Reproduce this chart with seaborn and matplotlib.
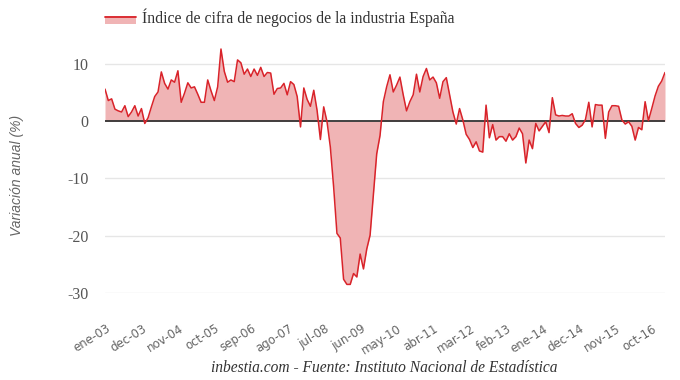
import matplotlib
matplotlib.use("Agg")
import matplotlib.pyplot as plt
from matplotlib.patches import Rectangle
from matplotlib.lines import Line2D
from matplotlib.transforms import ScaledTranslation
import seaborn as sns
import pandas as pd

# Monthly year-on-year change (%), ene-03 .. feb-17
variacion = [
    5.6, 3.6, 3.9, 2.1, 1.8, 1.6, 2.7, 0.8, 1.6, 2.7, 0.9, 2.2,          # 2003
    -0.4, 0.6, 2.5, 4.3, 5.1, 8.6, 6.6, 5.6, 7.2, 6.8, 8.8, 3.3,         # 2004
    4.9, 6.7, 5.8, 6.0, 4.7, 3.3, 3.3, 7.2, 5.3, 3.6, 6.0, 12.6,         # 2005
    8.7, 6.8, 7.2, 6.9, 10.7, 10.2, 8.2, 9.1, 7.8, 9.1, 8.0, 9.4,        # 2006
    7.8, 8.5, 8.4, 4.7, 5.7, 5.8, 6.6, 4.6, 6.9, 6.4, 4.3, -1.0,         # 2007
    5.8, 3.8, 2.6, 5.4, 1.9, -3.2, 2.5, -0.1, -4.5, -11.5, -19.6, -20.4, # 2008
    -27.6, -28.5, -28.5, -26.6, -27.2, -23.2, -25.8, -22.3, -19.9, -12.7, -5.7, -2.5,  # 2009
    3.4, 6.0, 8.1, 5.1, 6.3, 7.7, 4.6, 1.8, 3.4, 4.6, 8.2, 5.1,          # 2010
    7.8, 9.2, 7.2, 7.7, 6.7, 4.0, 6.9, 7.6, 4.6, 1.6, -0.5, 2.2,         # 2011
    0.2, -2.3, -3.2, -4.6, -3.6, -5.2, -5.4, 2.8, -2.9, -0.6, -3.3, -2.7,  # 2012
    -2.7, -3.5, -2.2, -3.3, -2.7, -1.2, -2.2, -7.3, -3.3, -4.8, -0.4, -1.7,  # 2013
    -0.9, -0.1, -2.0, 4.1, 1.1, 0.9, 1.0, 0.9, 0.9, 1.3, -0.4, -1.1,     # 2014
    -0.7, 0.3, 3.3, -1.0, 2.9, 2.8, 2.8, -3.0, 1.6, 2.7, 2.7, 2.6,       # 2015
    0.2, -0.5, -0.1, -0.9, -3.3, -1.1, -1.5, 3.4, 0.1, 2.2, 4.4, 6.1,    # 2016
    7.0, 8.5,                                                           # 2017
]

tick_labels = ["ene-03", "dec-03", "nov-04", "oct-05", "sep-06", "ago-07",
               "jul-08", "jun-09", "may-10", "abr-11", "mar-12", "feb-13",
               "ene-14", "dec-14", "nov-15", "oct-16"]
tick_step = 11
y_ticks = [10, 0, -10, -20, -30]

series_name = "Índice de cifra de negocios de la industria España"
y_title = "Variación anual (%)"
credit = "inbestia.com - Fuente: Instituto Nacional de Estadística"

line_color = "#d9232a"
fill_color = "#f0b4b5"

sns.set_theme(style="white")
plt.rcParams["font.family"] = ["DejaVu Sans"]

df = pd.DataFrame({"mes": range(len(variacion)), "valor": variacion})

W, H = 680, 380
fig = plt.figure(figsize=(W / 100, H / 100), dpi=100)
left, right, top, bottom = 105, 665, 45, 293
ax = fig.add_axes([left / W, 1 - bottom / H, (right - left) / W, (bottom - top) / H])

ax.fill_between(df["mes"], df["valor"], 0, color=fill_color, linewidth=0, zorder=1)
sns.lineplot(data=df, x="mes", y="valor", ax=ax, color=line_color, linewidth=1.1, zorder=3)
ax.axhline(0, color="#333333", linewidth=1.3, zorder=2)

ax.set_xlim(0, len(variacion) - 1)
ax.set_ylim(-30, 13.3)

for v in y_ticks:
    if v != 0:
        ax.axhline(v, color="#e6e6e6", linewidth=1.0, zorder=0)

for s in ax.spines.values():
    s.set_visible(False)

ax.set_yticks(y_ticks)
ax.set_yticklabels([str(v) for v in y_ticks], family="Liberation Serif",
                   fontsize=11.5, color="#555555")
ax.tick_params(axis="y", length=0, pad=12)

ax.set_xticks(list(range(0, len(variacion), tick_step))[:len(tick_labels)])
ax.set_xticklabels(tick_labels, rotation=32, ha="right", va="center",
                   rotation_mode="anchor", fontsize=8.5, color="#666666")
ax.tick_params(axis="x", length=0, pad=25)
offset = ScaledTranslation(3 / 72, 0, fig.dpi_scale_trans)
for lab in ax.xaxis.get_majorticklabels():
    lab.set_transform(lab.get_transform() + offset)

ax.set_xlabel("")
ax.set_ylabel("")

fig.text(17 / W, 1 - 175 / H, y_title, rotation=90, ha="center", va="center",
         family="Liberation Sans", style="italic", fontsize=10, color="#666666")

fig.text(384 / W, 1 - 368 / H, credit, ha="center", va="center",
         family="Liberation Serif", style="italic", fontsize=11.2, color="#333333")

# legend
fig.add_artist(Rectangle((105 / W, 1 - 24 / H), 31 / W, 8 / H,
                         transform=fig.transFigure, facecolor=fill_color,
                         edgecolor="none"))
fig.add_artist(Line2D([105 / W, 136 / W], [1 - 16.5 / H, 1 - 16.5 / H],
                      transform=fig.transFigure, color=line_color, linewidth=1.3))
fig.text(142 / W, 1 - 23 / H, series_name, ha="left", va="baseline",
         family="Liberation Serif", fontsize=11.3, color="#333333")

fig.savefig("out.png", dpi=100)
